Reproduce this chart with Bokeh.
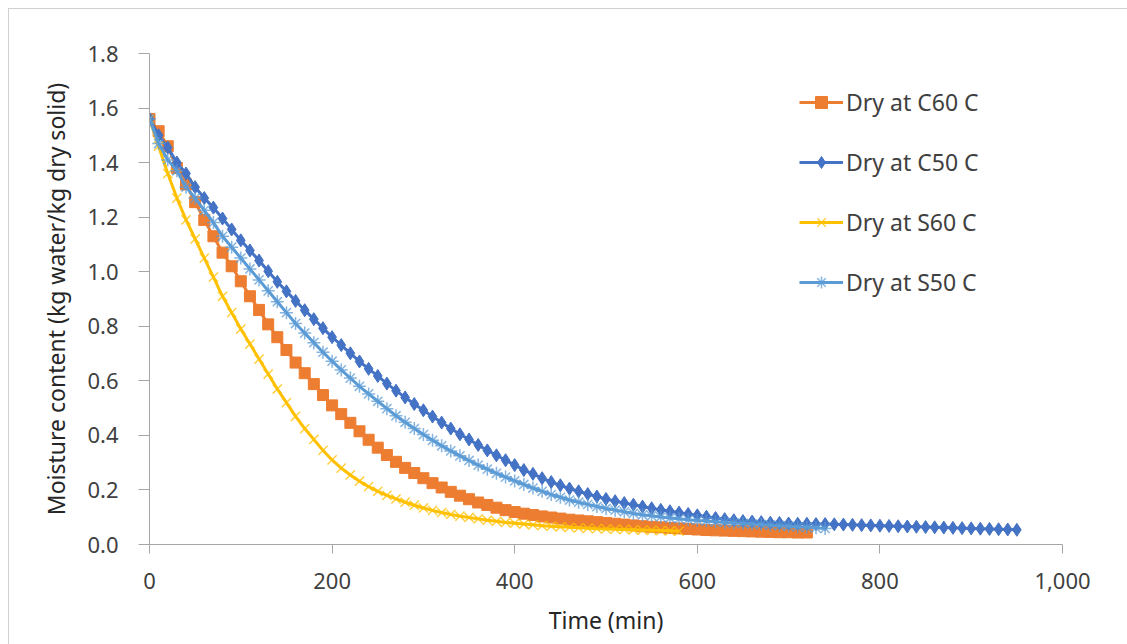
from bokeh.plotting import figure
from bokeh.models import (Range1d, FixedTicker, NumeralTickFormatter, Legend, LegendItem)
from bokeh.embed import file_html
from bokeh.resources import INLINE

# ---- data (moisture content, kg water / kg dry solid), sampled every 10 min ----
t_c60 = list(range(0, 721, 10))
m_c60 = [1.56, 1.515, 1.46, 1.38, 1.32, 1.255, 1.19, 1.13, 1.07, 1.02,
         0.965, 0.91, 0.86, 0.807, 0.76, 0.713, 0.667, 0.628, 0.588, 0.548,
         0.51, 0.478, 0.446, 0.415, 0.384, 0.355, 0.328, 0.303, 0.281, 0.262,
         0.243, 0.225, 0.209, 0.193, 0.179, 0.166, 0.154, 0.145, 0.135, 0.126,
         0.119, 0.113, 0.108, 0.103, 0.099, 0.095, 0.091, 0.088, 0.085, 0.082,
         0.079, 0.076, 0.073, 0.070, 0.067, 0.065, 0.063, 0.061, 0.059, 0.057,
         0.055, 0.053, 0.052, 0.051, 0.050, 0.049, 0.048, 0.047, 0.046, 0.045,
         0.045, 0.044, 0.044]

t_c50 = list(range(0, 951, 10))
m_c50 = [1.56, 1.50, 1.455, 1.40, 1.36, 1.31, 1.27, 1.235, 1.195, 1.155,
         1.115, 1.078, 1.041, 1.002, 0.963, 0.928, 0.893, 0.859, 0.826, 0.793,
         0.760, 0.731, 0.701, 0.671, 0.644, 0.618, 0.590, 0.564, 0.539, 0.515,
         0.492, 0.469, 0.447, 0.425, 0.404, 0.385, 0.365, 0.345, 0.327, 0.309,
         0.291, 0.273, 0.259, 0.243, 0.229, 0.217, 0.205, 0.195, 0.185, 0.176,
         0.167, 0.159, 0.152, 0.146, 0.139, 0.133, 0.127, 0.122, 0.117, 0.112,
         0.107, 0.102, 0.097, 0.093, 0.089, 0.086, 0.084, 0.082, 0.080, 0.079,
         0.077, 0.076, 0.076, 0.075, 0.075, 0.074, 0.073, 0.072, 0.071, 0.070,
         0.069, 0.068, 0.067, 0.066, 0.065, 0.064, 0.063, 0.062, 0.061, 0.060,
         0.059, 0.058, 0.057, 0.056, 0.055, 0.054]

t_s60 = list(range(0, 581, 10))
m_s60 = [1.56, 1.46, 1.36, 1.27, 1.19, 1.12, 1.05, 0.98, 0.91, 0.85,
         0.79, 0.735, 0.68, 0.625, 0.57, 0.52, 0.47, 0.425, 0.385, 0.345,
         0.31, 0.28, 0.255, 0.232, 0.212, 0.195, 0.18, 0.167, 0.155, 0.144,
         0.134, 0.125, 0.117, 0.11, 0.104, 0.099, 0.094, 0.089, 0.085, 0.081,
         0.078, 0.075, 0.072, 0.069, 0.067, 0.065, 0.063, 0.061, 0.060, 0.058,
         0.057, 0.056, 0.055, 0.054, 0.053, 0.052, 0.051, 0.050, 0.049]

t_s50 = list(range(0, 741, 10))
m_s50 = [1.56, 1.47, 1.41, 1.37, 1.31, 1.27, 1.225, 1.18, 1.13, 1.09,
         1.05, 1.01, 0.97, 0.93, 0.89, 0.85, 0.81, 0.775, 0.74, 0.705,
         0.672, 0.64, 0.61, 0.58, 0.552, 0.525, 0.498, 0.472, 0.448, 0.425,
         0.403, 0.382, 0.362, 0.343, 0.325, 0.308, 0.291, 0.276, 0.261, 0.247,
         0.233, 0.22, 0.207, 0.195, 0.183, 0.173, 0.163, 0.155, 0.147, 0.139,
         0.132, 0.126, 0.12, 0.114, 0.109, 0.105, 0.101, 0.097, 0.094, 0.091,
         0.088, 0.086, 0.083, 0.081, 0.079, 0.077, 0.075, 0.073, 0.071, 0.069,
         0.067, 0.065, 0.063, 0.061, 0.059]

series_labels = ["Dry at C60 C", "Dry at C50 C", "Dry at S60 C", "Dry at S50 C"]
x_ticks = [0, 200, 400, 600, 800, 1000]
y_ticks = [0.0, 0.2, 0.4, 0.6, 0.8, 1.0, 1.2, 1.4, 1.6, 1.8]
x_title = "Time (min)"
y_title = "Moisture content (kg water/kg dry solid)"

FONT = "Noto Sans"
ORANGE = "#ED7D31"
DBLUE = "#4472C4"
YELLOW = "#FFC000"
LBLUE = "#5B9BD5"

p = figure(width=1127, height=644, output_backend="svg", toolbar_location=None,
           x_range=Range1d(0, 1000), y_range=Range1d(0, 1.8),
           min_border_left=149, min_border_right=65, min_border_top=53,
           min_border_bottom=100)
# thin grey frame lines on the left and top of the chart area (as in the reference)
p.styles = {"background": "linear-gradient(#d0d0d0, #d0d0d0) 8px 8px / 1px 100% no-repeat, "
                          "linear-gradient(#d0d0d0, #d0d0d0) 8px 8px / 100% 1px no-repeat"}
p.border_fill_alpha = 0
p.outline_line_color = None
p.xgrid.visible = False
p.ygrid.visible = False

AX = "#a6a6a6"
for ax in (p.xaxis[0], p.yaxis[0]):
    ax.axis_line_color = AX
    ax.major_tick_line_color = AX
    ax.minor_tick_line_color = None
    ax.major_tick_in = 0
    ax.major_label_text_font = FONT
    ax.major_label_text_font_size = "22px"
    ax.major_label_text_color = "#404040"
    ax.axis_label_text_font = FONT
    ax.axis_label_text_font_size = "23px"
    ax.axis_label_text_font_style = "normal"
    ax.axis_label_text_color = "#262626"

p.xaxis.ticker = FixedTicker(ticks=x_ticks)
p.yaxis.ticker = FixedTicker(ticks=y_ticks)
p.xaxis.formatter = NumeralTickFormatter(format="0,0")
p.yaxis.formatter = NumeralTickFormatter(format="0.0")
p.xaxis.major_tick_out = 9
p.yaxis.major_tick_out = 11
p.xaxis.major_label_standoff = 19
p.yaxis.major_label_standoff = 20
p.xaxis.axis_label = x_title
p.yaxis.axis_label = y_title
p.xaxis.axis_label_standoff = 12
p.yaxis.axis_label_standoff = 12

items = []
# C60 - orange squares
l1 = p.line(t_c60, m_c60, line_color=ORANGE, line_width=3)
s1 = p.scatter(t_c60, m_c60, marker="square", size=11, fill_color=ORANGE, line_color=ORANGE)
items.append(LegendItem(label=series_labels[0], renderers=[l1, s1]))
# C50 - blue diamonds
l2 = p.line(t_c50, m_c50, line_color=DBLUE, line_width=3)
s2 = p.scatter(t_c50, m_c50, marker="diamond", size=13,
               fill_color=DBLUE, line_color=DBLUE)
items.append(LegendItem(label=series_labels[1], renderers=[l2, s2]))
# S60 - yellow x
l3 = p.line(t_s60, m_s60, line_color=YELLOW, line_width=3)
s3 = p.scatter(t_s60, m_s60, marker="x", size=13, line_color=YELLOW, line_width=1.5, line_alpha=0.75)
items.append(LegendItem(label=series_labels[2], renderers=[l3, s3]))
# S50 - light blue asterisk
l4 = p.line(t_s50, m_s50, line_color=LBLUE, line_width=3)
s4 = p.scatter(t_s50, m_s50, marker="asterisk", size=13, line_color=LBLUE, line_width=1.5, line_alpha=0.75)
items.append(LegendItem(label=series_labels[3], renderers=[l4, s4]))

legend = Legend(items=items, location=(650, 246), orientation="vertical",
                label_text_font=FONT, label_text_font_size="23px",
                label_text_color="#404040", glyph_width=44, glyph_height=30,
                label_height=30, spacing=28, label_standoff=3, padding=0,
                margin=0, border_line_color=None, background_fill_alpha=0)
p.add_layout(legend, "center")

open("out.html", "w").write(file_html(p, INLINE))
